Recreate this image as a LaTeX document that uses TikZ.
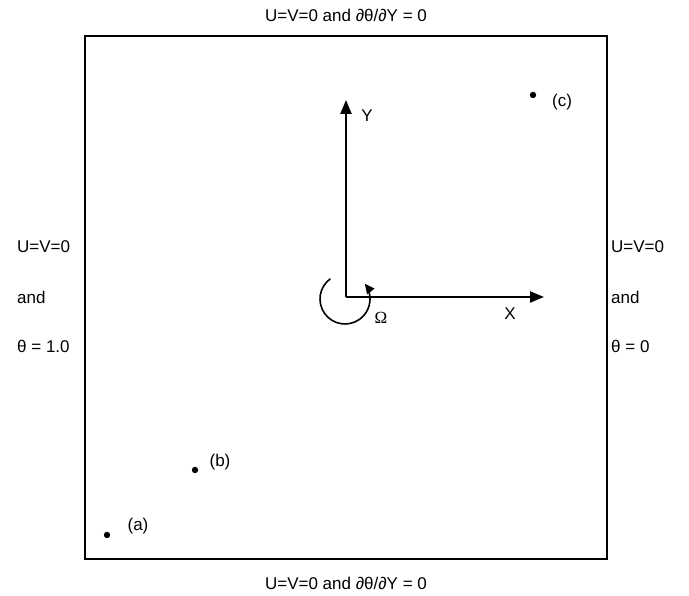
\documentclass[tikz,border=0pt]{standalone}
\usepackage{fontspec}
\setmainfont{Liberation Sans}
\newfontfamily\grk{Liberation Serif}
\usetikzlibrary{arrows.meta}

\begin{document}
\begin{tikzpicture}[x=1pt,y=1pt,
        bc/.style={font=\fontsize{17}{20}\selectfont,inner sep=0pt},
        axis/.style={line width=2.4pt,-{Triangle[length=14pt,width=11pt]}}]
        \useasboundingbox(0,0)rectangle(689,596);
        % 領域
        \draw[line width=1.6pt](85,37)rectangle(607,560);
        % 境界条件
        \node[bc](top)at(346,581){U=V=0 and ∂θ/∂Y = 0};
        \node[bc](bot)at(346,13){U=V=0 and ∂θ/∂Y = 0};
        \node[bc,anchor=west](L1)at(17,349){U=V=0};
        \node[bc,anchor=west](L2)at(17,299){and};
        \node[bc,anchor=west](L3)at(17,250){θ = 1.0};
        \node[bc,anchor=west](R1)at(611,349){U=V=0};
        \node[bc,anchor=west](R2)at(611,299){and};
        \node[bc,anchor=west](R3)at(611,250){θ = 0};
        % 座標軸
        \coordinate(O)at(346,299);
        \coordinate(Xtip)at(544,299);
        \coordinate(Ytip)at(346,496);
        \draw[axis](O)to(Xtip);
        \draw[axis](O)to(Ytip);
        \node[bc](X)at(510,282){X};
        \node[bc](Y)at(367,480){Y};
        % 回転
        \coordinate(C)at(345,297);
        \draw[line width=1.6pt,-{Triangle[length=10pt,width=9pt]}]([shift={(126:25)}]C)arc(126:398:25);
        \node[bc](Om)at(381,278){\grk Ω};
        % 観測点
        \foreach \p/\x/\y/\lx/\ly in {a/107/61/138/70,b/195/126/220/134,c/533/501/562/494}
        {
        \fill(\x,\y)circle(3.2);
        \node[bc](l\p)at(\lx,\ly){(\p)};
        }
    \end{tikzpicture}
\end{document}
